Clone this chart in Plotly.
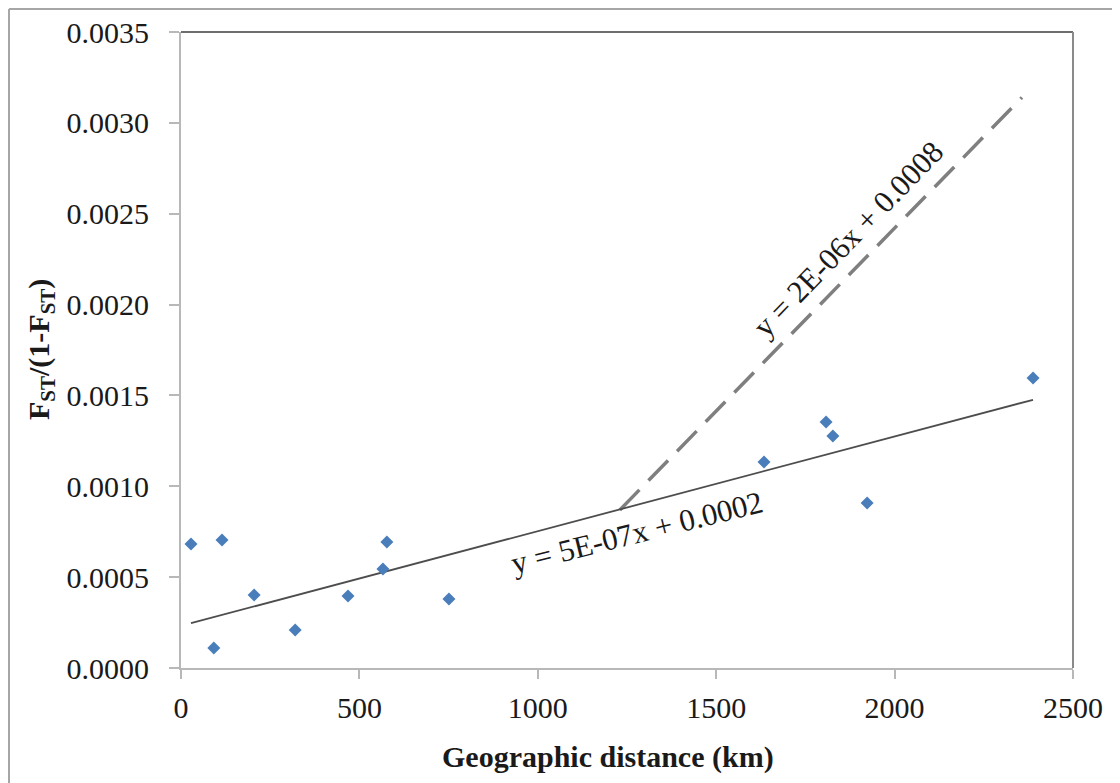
import plotly.graph_objects as go

# ---- data ----
distance_km = [28, 92, 115, 205, 320, 468, 566, 577, 751, 1634, 1808, 1827, 1923, 2388]
fst_ratio = [0.000682, 0.000110, 0.000704, 0.000402, 0.000209, 0.000396, 0.000545,
             0.000693, 0.000380, 0.001134, 0.001354, 0.001277, 0.000908, 0.001596]

# solid trendline (y = 5E-07x + 0.0002), drawn across the data range
trend_slope = 5.21e-7
trend_intercept = 0.000232

# dashed line (y = 2E-06x + 0.0008)
dashed_x = [1230, 2357]
dashed_y = [0.00087, 0.00314]

x_ticks = [0, 500, 1000, 1500, 2000, 2500]
y_ticks = [0.0000, 0.0005, 0.0010, 0.0015, 0.0020, 0.0025, 0.0030, 0.0035]

solid_eq = "y = 5E-07x + 0.0002"
dashed_eq = "y = 2E-06x + 0.0008"

FONT = "Liberation Serif"

trend_x = [min(distance_km), max(distance_km)]
trend_y = [trend_slope * v + trend_intercept for v in trend_x]

# page body has an 8px margin, so the figure is sized/offset to compensate
fig = go.Figure()
fig.add_trace(go.Scatter(x=dashed_x, y=dashed_y, mode="lines",
                         line=dict(color="#7f7f7f", width=3.5, dash="28px,13px"),
                         showlegend=False, hoverinfo="skip"))
fig.add_trace(go.Scatter(x=trend_x, y=trend_y, mode="lines",
                         line=dict(color="#4d4d4d", width=1.8),
                         showlegend=False, hoverinfo="skip"))
fig.add_trace(go.Scatter(x=distance_km, y=fst_ratio, mode="markers",
                         marker=dict(symbol="diamond", size=10, color="#4a7ebb",
                                     line=dict(width=0)),
                         showlegend=False))

fig.update_layout(
    width=1112, height=775,
    margin=dict(l=173, r=47, t=24, b=115),
    paper_bgcolor="white", plot_bgcolor="white",
    font=dict(family=FONT, size=30, color="#1a1a1a"),
    xaxis=dict(range=[0, 2500], tickvals=x_ticks, ticktext=[str(v) for v in x_ticks],
               showgrid=False, zeroline=False, showline=True, linecolor="#b8b8b8",
               linewidth=2, ticks="outside", ticklen=9, tickcolor="#b8b8b8", tickwidth=2,
               ticklabelstandoff=3, automargin=False),
    yaxis=dict(range=[0, 0.0035], tickvals=y_ticks,
               ticktext=[f"{v:.4f}" for v in y_ticks],
               showgrid=False, zeroline=False, showline=True, linecolor="#b8b8b8",
               linewidth=2, ticks="outside", ticklen=10, tickcolor="#b8b8b8", tickwidth=2,
               ticklabelstandoff=14, automargin=False),
    shapes=[
        # plot area top and right border
        dict(type="line", xref="paper", yref="paper", x0=0, x1=1, y0=1, y1=1,
             line=dict(color="#6e6e6e", width=2)),
        dict(type="line", xref="paper", yref="paper", x0=1, x1=1, y0=0, y1=1,
             line=dict(color="#8a8a8a", width=2)),
        # outer chart frame (left and top edges)
        dict(type="line", xref="paper", yref="paper", x0=-172 / 892, x1=-172 / 892,
             y0=-0.19, y1=1 + 23 / 636, line=dict(color="#a6a6a6", width=2)),
        dict(type="line", xref="paper", yref="paper", x0=-172 / 892, x1=1.06,
             y0=1 + 23 / 636, y1=1 + 23 / 636, line=dict(color="#a6a6a6", width=2)),
    ],
    annotations=[
        dict(text="<b>Geographic distance (km)</b>", xref="paper", yref="paper",
             x=0.4787, y=-0.140, showarrow=False, xanchor="center", yanchor="middle",
             font=dict(family=FONT, size=30, color="#1a1a1a")),
        dict(text="<b>F<sub>ST</sub>/(1-F<sub>ST</sub>)</b>", xref="paper", yref="paper",
             x=(41 - 181) / 892, y=0.5, showarrow=False, textangle=-90,
             xanchor="center", yanchor="middle",
             font=dict(family=FONT, size=30, color="#1a1a1a")),
        dict(text=solid_eq, x=1278, y=0.000745, xref="x", yref="y", showarrow=False,
             textangle=-14, xanchor="center", yanchor="middle",
             font=dict(family=FONT, size=31, color="#1a1a1a")),
        dict(text=dashed_eq, x=1868, y=0.002360, xref="x", yref="y", showarrow=False,
             textangle=-46, xanchor="center", yanchor="middle",
             font=dict(family=FONT, size=31, color="#1a1a1a")),
    ],
)

fig.write_html("out.html")
